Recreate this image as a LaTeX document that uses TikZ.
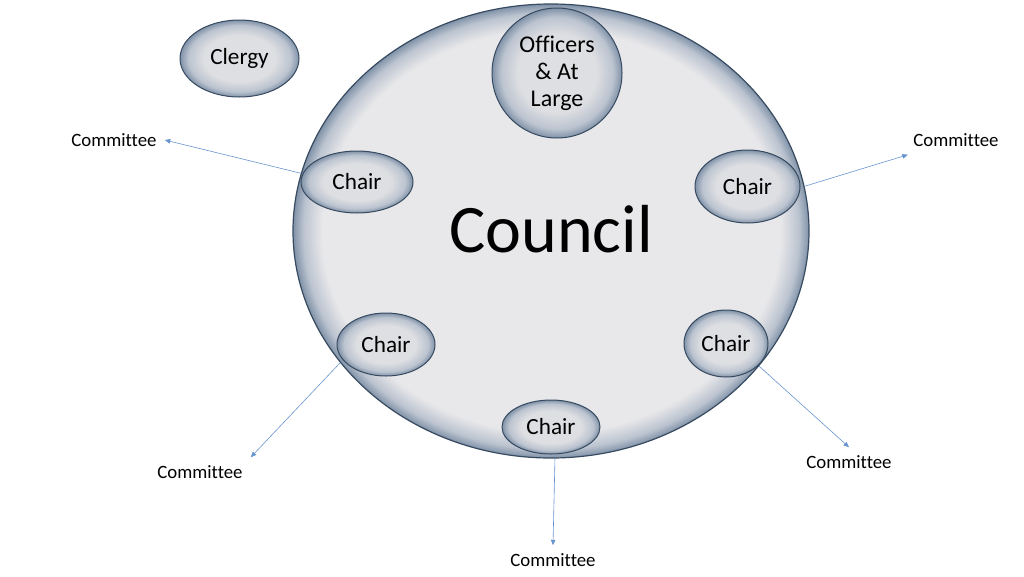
\documentclass[tikz,border=0pt]{standalone}
\usepackage{fontspec}
\setmainfont{Carlito}[Ligatures=NoCommon]
\usepackage{xcolor}
\usetikzlibrary{shapes.geometric,arrows.meta}
\definecolor{ringedge}{RGB}{55,74,96}
\definecolor{glowdark}{RGB}{128,146,168}
\definecolor{glowmid}{RGB}{188,196,208}
\definecolor{councilfill}{RGB}{232,232,234}
\definecolor{memberfill}{RGB}{222,223,226}
\definecolor{linkblue}{RGB}{104,148,206}
\pgfdeclareradialshading{council-glow}{\pgfpoint{0bp}{0bp}}{color(0bp)=(councilfill); color(22.2bp)=(councilfill); color(24bp)=(glowmid); color(25bp)=(glowdark); color(50bp)=(glowdark)}
\pgfdeclareradialshading{member-glow}{\pgfpoint{0bp}{0bp}}{color(0bp)=(memberfill); color(15bp)=(memberfill); color(21.5bp)=(glowmid); color(25bp)=(glowdark); color(50bp)=(glowdark)}
\tikzset{
    council-ring/.style = {ellipse, draw=ringedge, line width=1.2pt, shading=council-glow, inner sep=0pt, font=\fontsize{68}{80}\selectfont},
    member-oval/.style = {ellipse, draw=ringedge, line width=1pt, shading=member-glow, inner sep=0pt, font=\fontsize{23.2}{27}\selectfont},
    committee-label/.style = {inner sep=8pt, font=\fontsize{18.8}{22}\selectfont},
    link-arrow/.style = {draw=linkblue, line width=0.6pt, -{Triangle[length=5.5pt,width=4.5pt]}},
}

\begin{document}
\begin{tikzpicture}[x=1pt, y=-1pt]
\useasboundingbox (0,0) rectangle (1024,576);
\node[council-ring, minimum width=516pt, minimum height=454pt] (council) at (551,231) {\raisebox{4pt}{Council}};
\node[member-oval, minimum width=119pt, minimum height=77pt] (clergy) at (239.5,58.5) {Clergy};
\node[member-oval, minimum width=130pt, minimum height=130pt, align=center, font=\fontsize{24}{27}\selectfont] (officers) at (557,73) {Officers\\ \& At\\ Large};
\node[member-oval, minimum width=112pt, minimum height=62pt] (chair-a) at (357,182) {Chair};
\node[member-oval, minimum width=105pt, minimum height=73pt] (chair-b) at (747.5,186.5) {Chair};
\node[member-oval, minimum width=98pt, minimum height=63pt] (chair-c) at (386,344.5) {Chair};
\node[member-oval, minimum width=84pt, minimum height=67pt] (chair-d) at (726,343.5) {Chair};
\node[member-oval, minimum width=98pt, minimum height=54pt] (chair-e) at (551,427) {Chair};
\node[committee-label] (committee-a) at (114,140) {Committee};
\node[committee-label] (committee-b) at (956,140) {Committee};
\node[committee-label] (committee-c) at (200,472) {Committee};
\node[committee-label] (committee-d) at (849,462) {Committee};
\node[committee-label] (committee-e) at (553,560) {Committee};
\draw[link-arrow] (council.167) -- (committee-a.east);
\draw[link-arrow] (council.10) -- (committee-b);
\draw[link-arrow] (council.212) -- (committee-c.north east);
\draw[link-arrow] (council.-33) -- (committee-d.north);
\draw[link-arrow] (council.-89.5) -- (committee-e.north);
\end{tikzpicture}
\end{document}
